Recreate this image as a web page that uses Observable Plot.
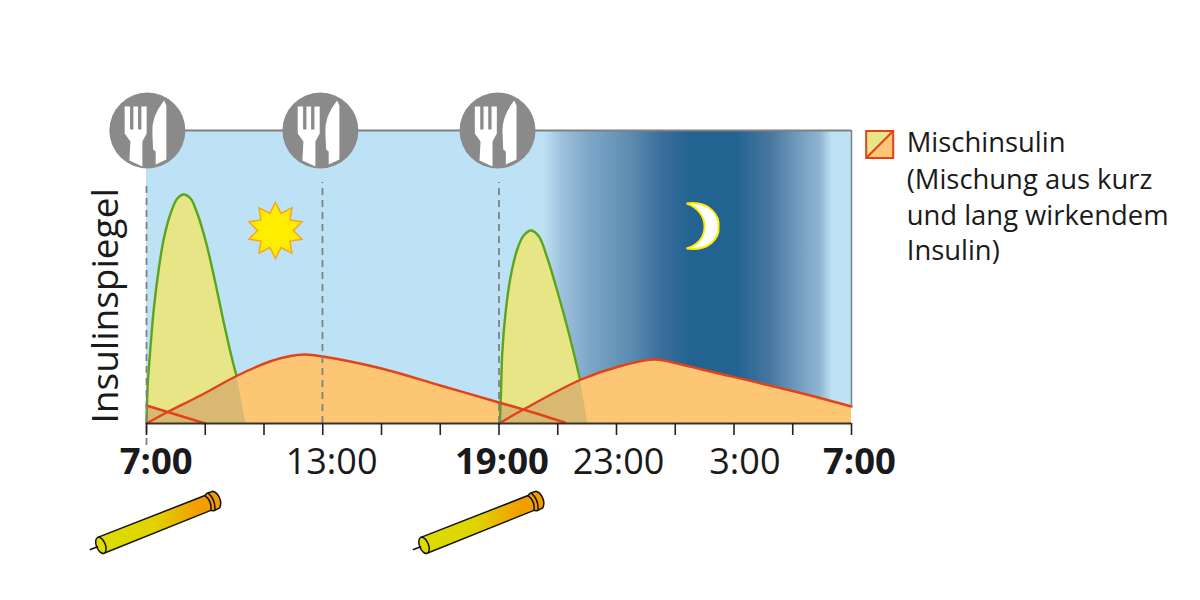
<!DOCTYPE html>
<html><head><meta charset="utf-8">
<script src="https://cdn.jsdelivr.net/npm/d3@7"></script>
<script src="https://cdn.jsdelivr.net/npm/@observablehq/plot@0.6"></script>
<style>body{margin:0;background:#fff}svg{display:block}</style>
</head><body><div id="chart"></div>
<script>
// x = hours after 7:00, y = insulin level (arbitrary units)
const fastA = [[0,0],[0.04,38],[0.14,78],[0.25,115],[0.42,155],[0.59,185],[0.82,210],[1.05,225],[1.27,229],[1.5,225],[1.73,210],[2.01,183],[2.29,148],[2.63,101],[2.86,71],[3.06,48]];
const fastATail = [[3.06,48],[3.37,0]];
const fastB = [[12.03,0],[12.07,33],[12.11,70],[12.22,110],[12.39,146],[12.62,174],[12.84,188],[13.1,193],[13.36,187],[13.64,166],[13.98,133],[14.38,90],[14.75,45]];
const fastBTail = [[14.75,45],[15.01,0]];
const longA = [[0,0],[0.75,12],[1.84,28],[3.1,48],[4.2,62],[4.9,67.5],[5.4,69],[6,67],[8,55],[10,38],[12,21],[12.83,14],[14.24,1]];
const longB = [[12,0],[12.83,14],[14.8,44],[16.2,58],[17.3,64],[18.2,59],[18.9,54],[22.2,31],[24,17]];
const tailA = [[0,18],[2,0]];
const overlapA = [[0,18],[0.75,12],[1.84,28],[3.06,48],[3.37,0],[0,0]];
const overlapB = [[12,21],[12.83,14],[14.75,45],[15.01,0],[12,0]];
const mealHours = [0.03, 5.92, 11.95];
const mealRuleHours = [5.99, 12];
const tickHours = [0,2,4,6,8,10,12,14,16,18,20,22,24];
const boldLabels = [{x:0.33,t:"7:00"},{x:12.1,t:"19:00"},{x:24.27,t:"7:00"}];
const plainLabels = [{x:6.3,t:"13:00"},{x:16.07,t:"23:00"},{x:20.37,t:"3:00"}];
const legendLines = [{y:280,t:"Mischinsulin"},{y:243,t:"(Mischung aus kurz"},{y:207,t:"und lang wirkendem"},{y:172,t:"Insulin)"}];
const nightStops = [[0,"#BEE2F5"],[0.563,"#BEE2F5"],[0.591,"#9dc0dc"],[0.626,"#7fa8c8"],[0.687,"#5c8cb0"],[0.733,"#3a6d9c"],[0.772,"#236391"],[0.838,"#236391"],[0.885,"#46779f"],[0.923,"#6f9abd"],[0.956,"#8fb5d2"],[0.973,"#BEE2F5"],[1,"#BEE2F5"]];

const YEL="#E8E587", ORG="#FDC675", TAN="#D9B972", GRN="#5AA51E", RED="#E2421A", GRY="#8A8A8A";

const xy = {x:d=>d[0], y:d=>d[1]};
const curve = "catmull-rom";
const sym = f => ({draw(c){f(c);}});

const fork = c => {
  c.moveTo(-22.7,-24);c.lineTo(-17.3,-24);c.lineTo(-17.3,-1);c.lineTo(-14,-1);c.lineTo(-14,-24);c.lineTo(-9.3,-24);
  c.lineTo(-9.3,-1);c.lineTo(-6,-1);c.lineTo(-6,-24);c.lineTo(-0.7,-24);c.lineTo(-0.7,3);c.lineTo(-5,11);c.lineTo(-5,36);
  c.lineTo(-18,30);c.lineTo(-17,11);c.lineTo(-22.7,3);c.closePath();
  c.moveTo(16.7,-30);c.quadraticCurveTo(4,-14,5,2);c.lineTo(5.7,19);c.lineTo(8.3,21);c.lineTo(8.3,34);c.lineTo(19,29);c.lineTo(19,-25);c.closePath();
};
const star = c => {
  for(let i=0;i<20;i++){const r=i%2?18:28,a=-Math.PI/2+i*Math.PI/10;
    i?c.lineTo(r*Math.cos(a),r*Math.sin(a)):c.moveTo(r*Math.cos(a),r*Math.sin(a));}
  c.closePath();
};
const moon = c => {
  c.moveTo(-16,-23);c.bezierCurveTo(8,-26,17,-10,16,0);c.bezierCurveTo(17,12,6,25,-16,22);
  c.bezierCurveTo(-2,18,2,8,2,0);c.bezierCurveTo(2,-8,-3,-19,-16,-23);c.closePath();
};
const ang = -21.6*Math.PI/180;
const P = (u,v)=>[u*Math.cos(ang)-v*Math.sin(ang), u*Math.sin(ang)+v*Math.cos(ang)];
const ell = (c,u0,rx,ry) => {
  const k=.5523, m=(a,b)=>P(u0+a,b);
  c.moveTo(...m(rx,0));
  c.bezierCurveTo(...m(rx,k*ry),...m(k*rx,ry),...m(0,ry));
  c.bezierCurveTo(...m(-k*rx,ry),...m(-rx,k*ry),...m(-rx,0));
  c.bezierCurveTo(...m(-rx,-k*ry),...m(-k*rx,-ry),...m(0,-ry));
  c.bezierCurveTo(...m(k*rx,-ry),...m(rx,-k*ry),...m(rx,0));
  c.closePath();
};
const penBody = c => {
  c.moveTo(...P(-62,-8.5));c.lineTo(...P(53,-8));c.lineTo(...P(56,-9.5));c.lineTo(...P(62,-9));
  c.bezierCurveTo(...P(67,-5),...P(67,5),...P(62,9));c.lineTo(...P(56,9.5));c.lineTo(...P(53,8));c.lineTo(...P(-62,8.5));c.closePath();
};
const penCap = c => ell(c,-62,4.5,8.5);
const penLines = c => {
  c.moveTo(...P(-65,0));c.lineTo(...P(-74,0));
  c.moveTo(...P(53,-8));c.bezierCurveTo(...P(56,-3),...P(56,3),...P(53,8));
  c.moveTo(...P(57,-9));c.bezierCurveTo(...P(60,-3),...P(60,3),...P(57,9));
};
const swatchBox = c => {c.rect(-13.5,-13.5,27,27);};
const swatchYel = c => {c.moveTo(-13.5,-13.5);c.lineTo(13.5,-13.5);c.lineTo(-13.5,13.5);c.closePath();};
const swatchOrg = c => {c.moveTo(13.5,-13.5);c.lineTo(13.5,13.5);c.lineTo(-13.5,13.5);c.closePath();};
const swatchDiag = c => {c.moveTo(-13.5,13.5);c.lineTo(13.5,-13.5);};

const defs = () => {
  const ns="http://www.w3.org/2000/svg";
  const d=document.createElementNS(ns,"defs");
  const g1=document.createElementNS(ns,"linearGradient"); g1.setAttribute("id","night");
  nightStops.forEach(([o,c])=>{const s=document.createElementNS(ns,"stop");s.setAttribute("offset",o);s.setAttribute("stop-color",c);g1.appendChild(s);});
  const g2=document.createElementNS(ns,"linearGradient"); g2.setAttribute("id","pen");
  [[0,"#DCDD00"],[0.45,"#E0D400"],[0.8,"#F2A000"],[1,"#F39A00"]].forEach(([o,c])=>{const s=document.createElementNS(ns,"stop");s.setAttribute("offset",o);s.setAttribute("stop-color",c);g2.appendChild(s);});
  d.append(g1,g2); return d;
};

const area = (data,fill,c=curve)=>Plot.areaY(data,{x:d=>d[0],y1:0,y2:d=>d[1],fill,curve:c});
const line = (data,stroke,w=2.4)=>Plot.lineY(data,{...xy,stroke,strokeWidth:w,curve});
const dot = (x,y,f,o)=>Plot.dot([{x,y}],{x:"x",y:"y",r:1,symbol:sym(f),...o});
const dash = {stroke:"#808080",strokeWidth:1.8,strokeDasharray:"7 5"};

const plot = Plot.plot({
  width:1200,height:600,
  marginLeft:146,marginRight:349,marginTop:130,marginBottom:177,
  x:{domain:[0,24]},y:{domain:[0,293],axis:null},
  style:{background:"#fff",fontFamily:"'Open Sans',sans-serif",overflow:"visible"},
  marks:[
    defs,
    Plot.rect([{}],{x1:()=>0,x2:()=>24,y1:()=>0,y2:()=>293,fill:"url(#night)"}),
    area(longA,ORG),area(longB,ORG),area(tailA,ORG),
    area(fastA,YEL),area(fastB,YEL),
    area(fastATail,YEL,"linear"),
    area(fastBTail,YEL,"linear"),
    Plot.line(overlapA,{...xy,fill:TAN,stroke:null,curve:"linear"}),
    Plot.line(overlapB,{...xy,fill:TAN,stroke:null,curve:"linear"}),
    line(fastA,GRN),line(fastB,GRN),
    line(longA,RED),line(longB,RED),line(tailA,RED),
    Plot.ruleX([0],{y1:-22,y2:293-52,...dash}),
    Plot.ruleX(mealRuleHours,{y1:0,y2:293-52,...dash}),
    Plot.ruleY([293],{x1:0,x2:24,stroke:"#808080",strokeWidth:2}),
    Plot.ruleX([24],{y1:17,y2:293,stroke:"#808080",strokeWidth:1.5}),
    Plot.ruleY([0],{x1:0,x2:24,stroke:"#333",strokeWidth:2}),
    Plot.axisX({ticks:tickHours,tickSize:12,tickFormat:()=>"",stroke:"#222",strokeWidth:1.6,label:null}),
    Plot.text(boldLabels,{x:"x",y:()=>-39,text:"t",fontSize:36.5,fontWeight:700,fill:"#1a1a1a"}),
    Plot.text(plainLabels,{x:"x",y:()=>-39,text:"t",fontSize:36,fill:"#1a1a1a"}),
    Plot.text(["Insulinspiegel"],{x:()=>-1.39,y:()=>0,rotate:-90,textAnchor:"start",fontSize:37,fill:"#1a1a1a"}),
    Plot.dot(mealHours,{x:d=>d,y:()=>293,r:38,fill:GRY,stroke:null}),
    ...mealHours.map(h=>dot(h,293,fork,{fill:"#fff",stroke:null})),
    dot(4.39,193,star,{fill:"#FFED00",stroke:"#F7A51C",strokeWidth:1.5}),
    dot(18.93,197,moon,{fill:"#fff",stroke:"#FFED00",strokeWidth:2}),
    ...[0.41,11.41].flatMap(h=>[
      dot(h,-99,penBody,{fill:"url(#pen)",stroke:"#111",strokeWidth:1.5}),
      dot(h,-99,penCap,{fill:"#DCDD00",stroke:"#111",strokeWidth:1.5}),
      dot(h,-99,penLines,{fill:"none",stroke:"#111",strokeWidth:1.5})
    ]),
    dot(24.96,279,swatchYel,{fill:YEL,stroke:null}),
    dot(24.96,279,swatchOrg,{fill:ORG,stroke:null}),
    dot(24.96,279,swatchDiag,{fill:"none",stroke:RED,strokeWidth:2}),
    dot(24.96,279,swatchBox,{fill:"none",stroke:RED,strokeWidth:2}),
    Plot.text(legendLines,{x:()=>25.88,y:"y",text:"t",textAnchor:"start",fontSize:27.4,fill:"#1a1a1a"})
  ]
});
document.getElementById("chart").append(plot);
</script></body></html>
